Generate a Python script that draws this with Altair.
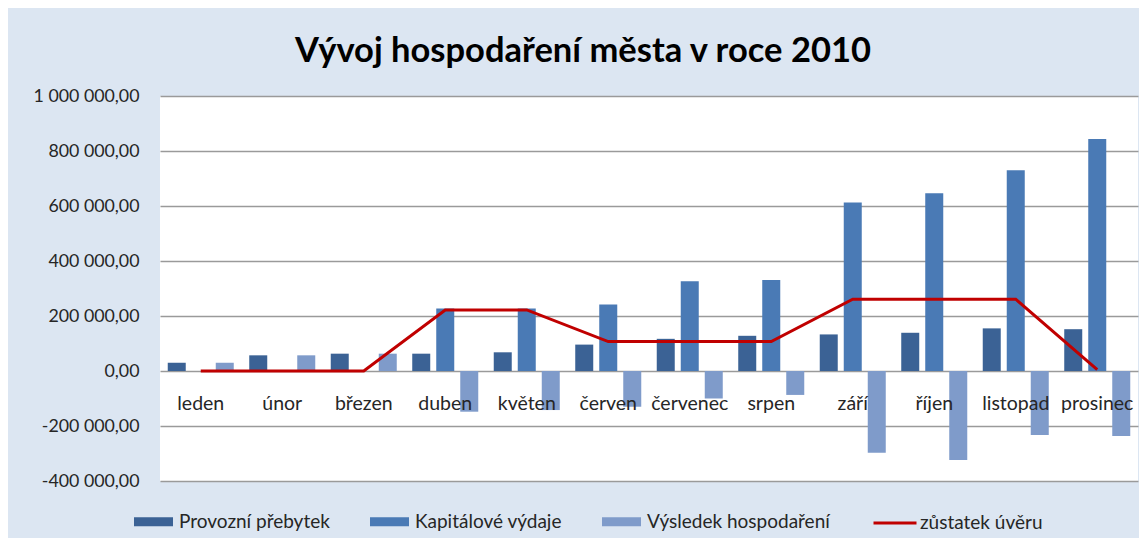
import altair as alt
import pandas as pd

months = ["leden", "únor", "březen", "duben", "květen", "červen",
          "červenec", "srpen", "září", "říjen", "listopad", "prosinec"]
series = ["Provozní přebytek", "Kapitálové výdaje", "Výsledek hospodaření"]
provozni = [30000, 57000, 63000, 63000, 68000, 96000, 117000, 128000, 133000, 139000, 155000, 152000]
kapitalove = [0, 0, 0, 227000, 227000, 242000, 326000, 331000, 613000, 646000, 730000, 844000]
vysledek = [30000, 57000, 63000, -148000, -142000, -130000, -100000, -87000, -297000, -324000, -233000, -236000]
line_name = "zůstatek úvěru"
zustatek = [0, 0, 0, 222000, 222000, 107000, 107000, 107000, 261000, 261000, 261000, 5000]
y_ticks = [-400000, -200000, 0, 200000, 400000, 600000, 800000, 1000000]

bar_colors = ["#3b6295", "#4a7ab5", "#7f9bca"]
line_color = "#c00000"
FONT = "Lato"
TEXT = "#262626"

rows = []
for i, m in enumerate(months):
    for s, vals in zip(series, [provozni, kapitalove, vysledek]):
        rows.append({"month": m, "series": s, "value": vals[i]})
bars_df = pd.DataFrame(rows)
line_df = pd.DataFrame({"month": months, "value": zustatek, "name": line_name})

x_enc = alt.X(
    "month:N", sort=months, title=None,
    scale=alt.Scale(paddingInner=0.19, paddingOuter=0.095),
    axis=alt.Axis(orient="bottom", offset=-110, domain=False, ticks=False,
                  labelPadding=23, labelAngle=0, labelFont=FONT, labelFontSize=19.5,
                  labelColor=TEXT, grid=False, zindex=1),
)
y_enc = alt.Y(
    "value:Q", title=None,
    scale=alt.Scale(domain=[-400000, 1000000], nice=False, zero=False),
    axis=alt.Axis(values=y_ticks, domain=False, ticks=False, labelPadding=21,
                  labelFont=FONT, labelFontSize=17.8, labelColor=TEXT,
                  gridColor="#9a9a9a", gridWidth=1.5,
                  labelExpr="replace(replace(replace(format(datum.value, ',.2f'), /,/g, ' '), '.', ','), '\u2212', '-')"),
)

bars = alt.Chart(bars_df).mark_bar().encode(
    x=x_enc,
    xOffset=alt.XOffset("series:N", sort=series,
                        scale=alt.Scale(paddingInner=0.25, paddingOuter=0)),
    y=y_enc,
    fill=alt.Fill("series:N", sort=series,
                  scale=alt.Scale(domain=series, range=bar_colors),
                  legend=alt.Legend(title=None, orient="none", legendX=-26, legendY=406,
                                    direction="horizontal",
                                    symbolType="M-1,-0.23H1V0.23H-1Z", symbolSize=1521,
                                    symbolStrokeWidth=0, labelFont=FONT, labelFontSize=19,
                                    labelColor=TEXT, labelOffset=6, columnPadding=40,
                                    labelLimit=400)),
)

line = alt.Chart(line_df).mark_line(strokeWidth=3).encode(
    x=x_enc,
    y=y_enc,
    stroke=alt.Stroke("name:N", scale=alt.Scale(domain=[line_name], range=[line_color]),
                      legend=alt.Legend(title=None, orient="none", legendX=712, legendY=404,
                                        direction="horizontal", symbolType="stroke",
                                        symbolSize=1849, symbolStrokeWidth=3,
                                        labelFont=FONT, labelFontSize=19, labelColor=TEXT,
                                        labelOffset=2, labelLimit=400)),
)

chart = alt.layer(bars, line).properties(
    width=978, height=385,
    autosize=alt.AutoSizeParams(type="none"),
    padding={"left": 152, "top": 88, "right": 1, "bottom": 57},
    background="#dce6f2",
    title=alt.TitleParams("Vývoj hospodaření města v roce 2010", font=FONT,
                          fontSize=34.5, fontWeight="bold", color="#000000",
                          anchor="middle", dx=-66, offset=18),
).configure_view(fill="#ffffff", stroke=None)

chart.save("out.html", embed_options={"renderer": "svg", "actions": False})
